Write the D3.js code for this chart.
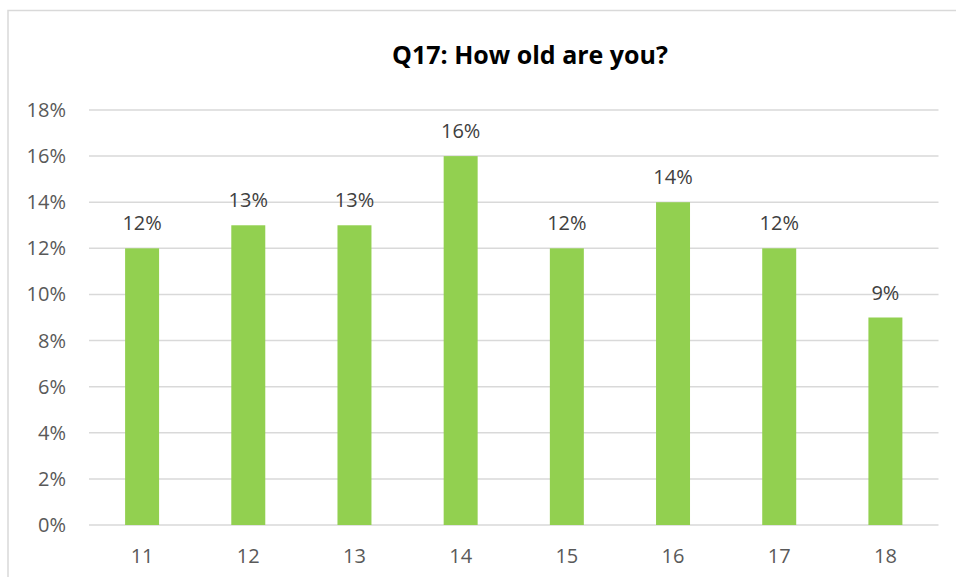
<!DOCTYPE html>
<html>
<head>
<meta charset="utf-8">
<script src="https://cdn.jsdelivr.net/npm/d3@7"></script>
<style>
  body { margin: 0; background: #fff; }
  svg { display: block; }
</style>
</head>
<body>
<div id="chart"></div>
<script>
var w = 956;
var h = 577;

var ages = ["11", "12", "13", "14", "15", "16", "17", "18"];
var shares = [12, 13, 13, 16, 12, 14, 12, 9];
var yTicks = [0, 2, 4, 6, 8, 10, 12, 14, 16, 18];

var plotLeft = 89, plotRight = 938.5, plotTop = 110, plotBottom = 525;
var font = "'Open Sans', sans-serif";

var svg = d3.select("#chart").append("svg").attr("width", w).attr("height", h);

// chart border (runs off the right and bottom edges)
svg.append("rect")
  .attr("x", 8).attr("y", 10.5)
  .attr("width", w + 10).attr("height", h + 10)
  .attr("fill", "none").attr("stroke", "#d9d9d9").attr("stroke-width", 1.5);

var x = d3.scaleBand().domain(ages).range([plotLeft, plotRight]).paddingInner(0.68).paddingOuter(0.34);
var y = d3.scaleLinear().domain([0, 18]).range([plotBottom, plotTop]);

svg.append("text")
  .text("Q17: How old are you?")
  .attr("x", 530)
  .attr("y", 64)
  .attr("text-anchor", "middle")
  .attr("font-family", font)
  .attr("font-weight", "bold")
  .attr("font-size", "25px")
  .attr("fill", "#000");

// gridlines
svg.selectAll("line.grid")
  .data(yTicks)
  .enter()
  .append("line")
  .attr("class", "grid")
  .attr("x1", plotLeft).attr("x2", plotRight)
  .attr("y1", function (d) { return y(d); })
  .attr("y2", function (d) { return y(d); })
  .attr("stroke", "#d9d9d9")
  .attr("stroke-width", 1.5);

// y labels
svg.selectAll("text.ytick")
  .data(yTicks)
  .enter()
  .append("text")
  .attr("class", "ytick")
  .text(function (d) { return d + "%"; })
  .attr("x", 66)
  .attr("y", function (d) { return y(d) + 7; })
  .attr("text-anchor", "end")
  .attr("font-family", font)
  .attr("font-size", "20px")
  .attr("fill", "#595959");

// bars
svg.selectAll("rect.bar")
  .data(shares)
  .enter()
  .append("rect")
  .attr("class", "bar")
  .attr("x", function (d, i) { return x(ages[i]); })
  .attr("y", function (d) { return y(d); })
  .attr("width", x.bandwidth())
  .attr("height", function (d) { return y(0) - y(d); })
  .attr("fill", "#92d050");

// value labels
svg.selectAll("text.val")
  .data(shares)
  .enter()
  .append("text")
  .attr("class", "val")
  .text(function (d) { return d + "%"; })
  .attr("x", function (d, i) { return x(ages[i]) + x.bandwidth() / 2; })
  .attr("y", function (d) { return y(d) - 18; })
  .attr("text-anchor", "middle")
  .attr("font-family", font)
  .attr("font-size", "20px")
  .attr("fill", "#404040");

// x labels
svg.selectAll("text.xtick")
  .data(ages)
  .enter()
  .append("text")
  .attr("class", "xtick")
  .text(function (d) { return d; })
  .attr("x", function (d) { return x(d) + x.bandwidth() / 2; })
  .attr("y", 563)
  .attr("text-anchor", "middle")
  .attr("font-family", font)
  .attr("font-size", "20px")
  .attr("fill", "#595959");
</script>
</body>
</html>
